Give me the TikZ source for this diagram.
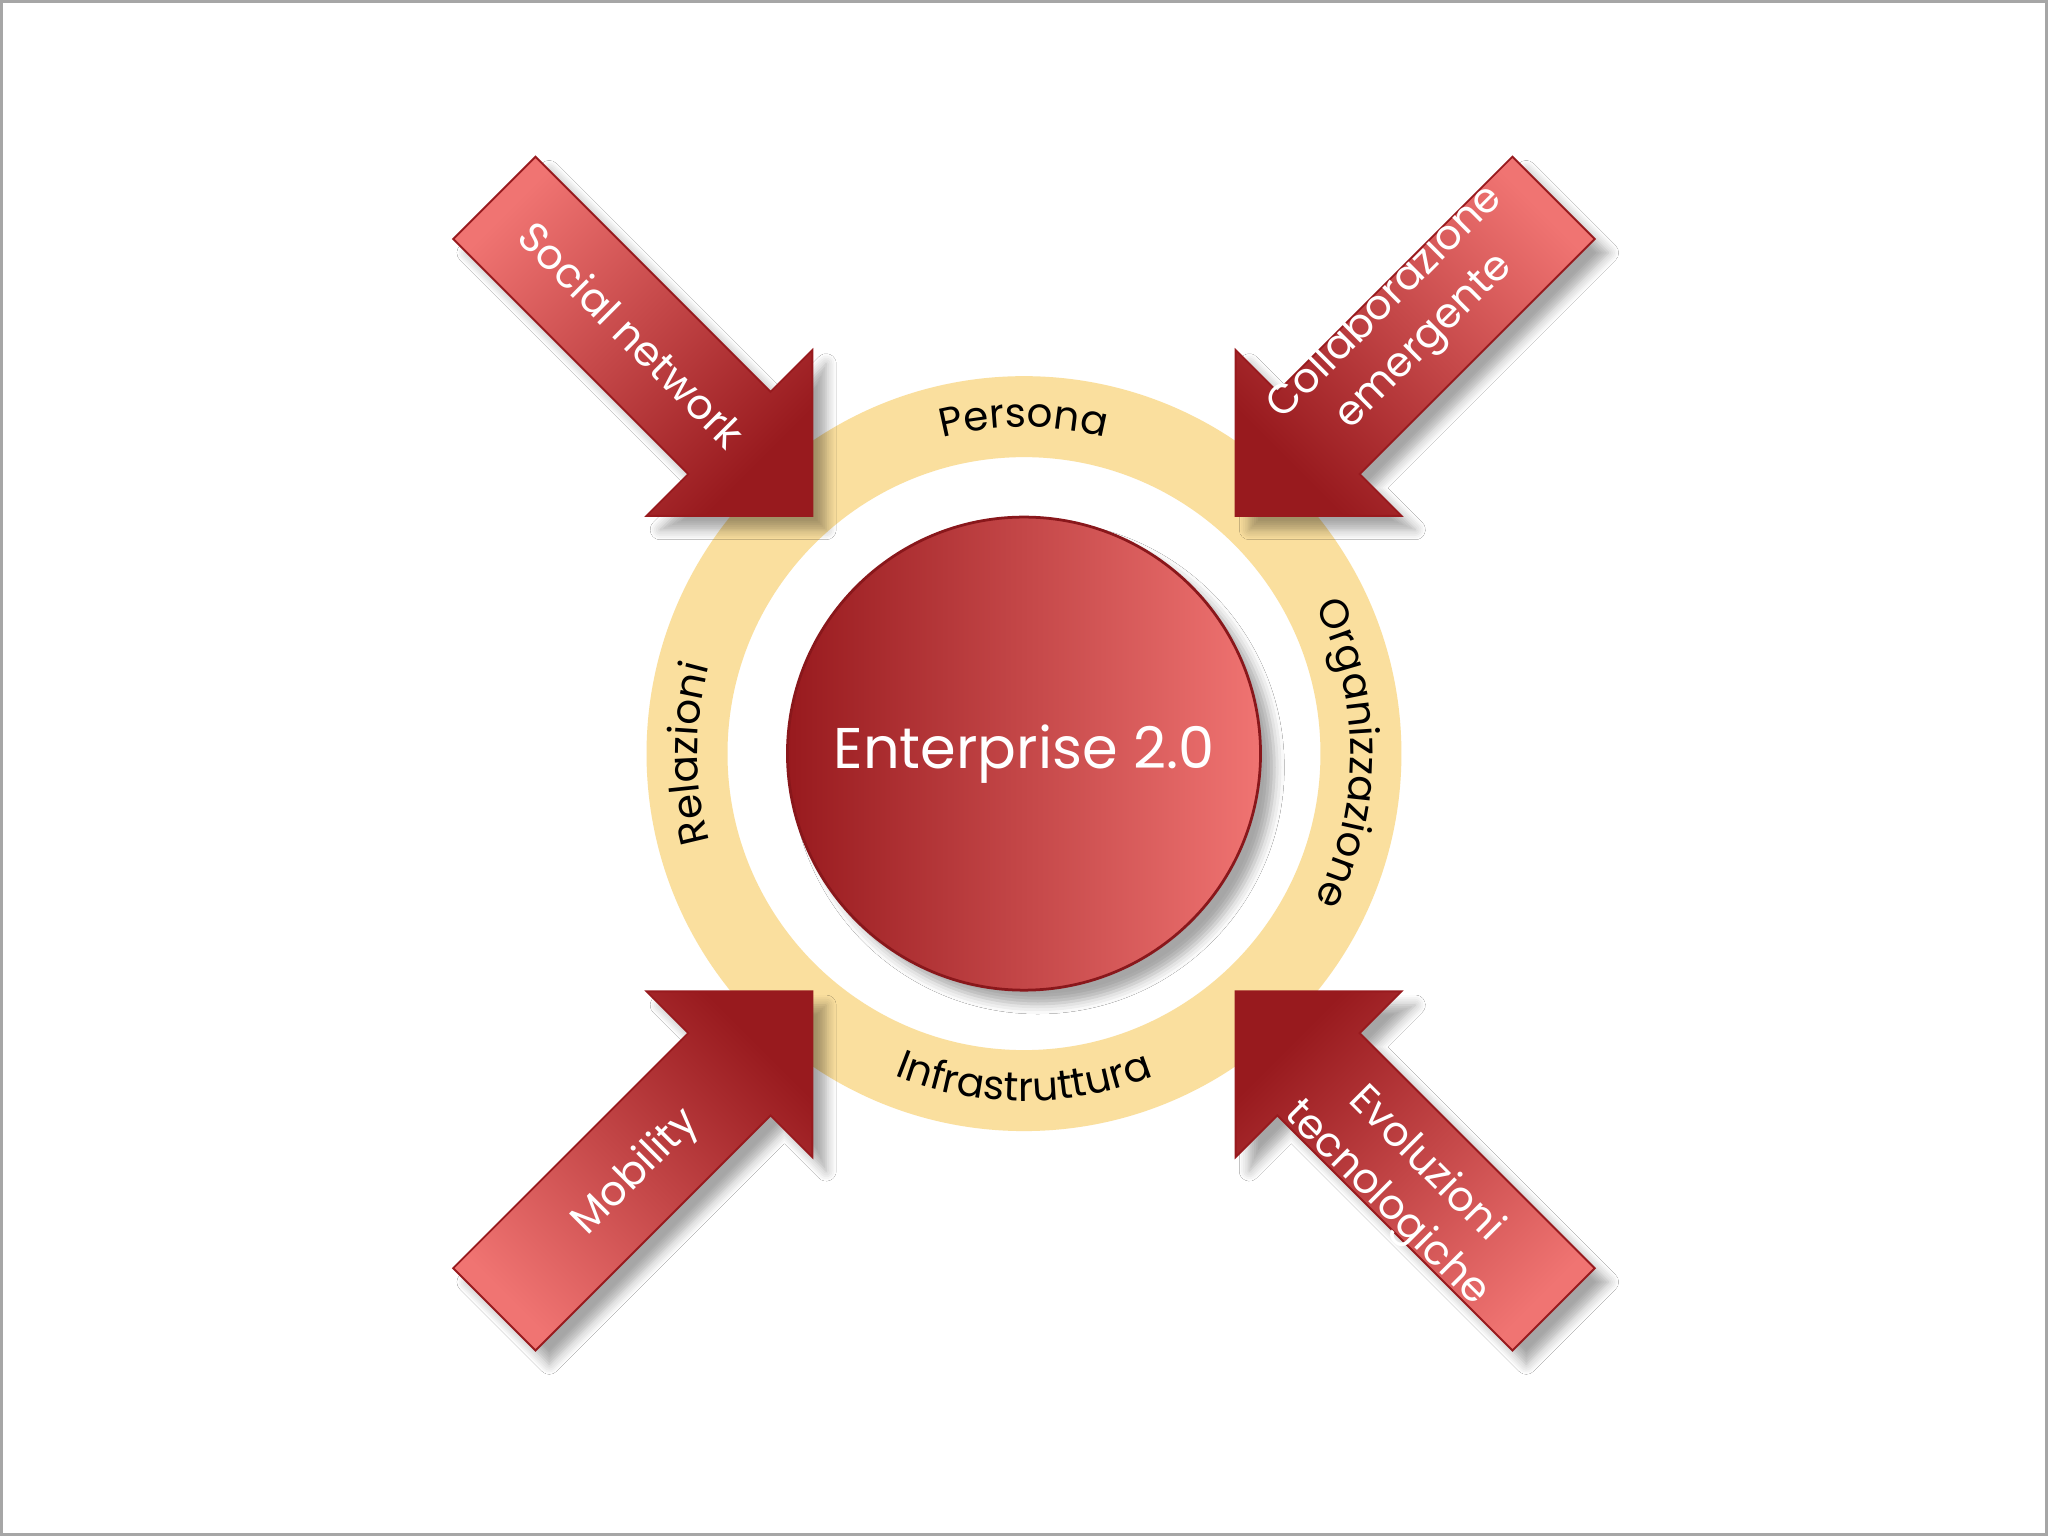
\documentclass[tikz,border=0pt]{standalone}
\usepackage{fontspec}
\setmainfont{Poppins}
\usetikzlibrary{shadows.blur,decorations.text}
\definecolor{dred}{HTML}{981A1E}
\definecolor{lred}{HTML}{F07472}
\definecolor{ring}{HTML}{FADF9E}
\newcommand{\ringfont}{\fontsize{8.8pt}{11pt}\selectfont}
\tikzset{
  arr/.style={top color=lred,bottom color=dred,draw=dred,line width=0.4pt,
     blur shadow={shadow xshift=3pt,shadow yshift=-3pt,shadow blur steps=6,shadow opacity=35}},
  alab/.style={text=white,font=\fontsize{9pt}{12pt}\selectfont,align=center},
  rlab/.style={decorate,decoration={text along path,text align=center}}
}
\begin{document}
\begin{tikzpicture}[x=0.01cm,y=0.01cm]
\useasboundingbox (-784,-599) rectangle (784,577);
\fill[white] (-784,-599) rectangle (784,577);
\draw[gray!70,line width=0.8pt] (-783,-598) rectangle (783,576);
% ring
\fill[ring,even odd rule] (0,0) circle (289) (0,0) circle (227);
% centre
\node[circle,minimum size=3.62cm,inner sep=0,left color=dred,right color=lred,draw=dred!90!black,line width=0.6pt,
  blur shadow={shadow xshift=3pt,shadow yshift=-3pt,shadow opacity=35},
  text=white,font=\fontsize{12.5pt}{15pt}\selectfont] (core) at (0,0) {Enterprise 2.0};
% arrows
\shade[arr,shading angle=45] (-374,457) -- (-194,277) -- (-162,309) -- (-162,182) -- (-289,182) -- (-257,214) -- (-437,394) -- cycle;
\shade[arr,shading angle=-45] (374,457) -- (194,277) -- (162,309) -- (162,182) -- (289,182) -- (257,214) -- (437,394) -- cycle;
\shade[arr,shading angle=135] (-374,-457) -- (-194,-277) -- (-162,-309) -- (-162,-182) -- (-289,-182) -- (-257,-214) -- (-437,-394) -- cycle;
\shade[arr,shading angle=-135] (374,-457) -- (194,-277) -- (162,-309) -- (162,-182) -- (289,-182) -- (257,-214) -- (437,-394) -- cycle;
\node[alab,rotate=-45] (sn) at (-300,321) {Social network};
\node[alab,rotate=45] (ce) at (292,330) {Collaborazione\\emergente};
\node[alab,rotate=45] (mo) at (-297,-321) {Mobility};
\node[alab,rotate=-45] (et) at (292,-330) {Evoluzioni\\tecnologiche};
% ring labels
\path[rlab,decoration={text={|\ringfont|Persona}}] (110:250) arc[start angle=110,end angle=70,radius=250];
\path[rlab,decoration={text={|\ringfont|Relazioni}}] (207:250) arc[start angle=207,end angle=153,radius=250];
\path[rlab,decoration={text={|\ringfont|Organizzazione}}] (38:250) arc[start angle=38,end angle=-38,radius=250];
\path[rlab,decoration={text={|\ringfont|Infrastruttura}}] (243:266) arc[start angle=243,end angle=297,radius=266];
\end{tikzpicture}
\end{document}
